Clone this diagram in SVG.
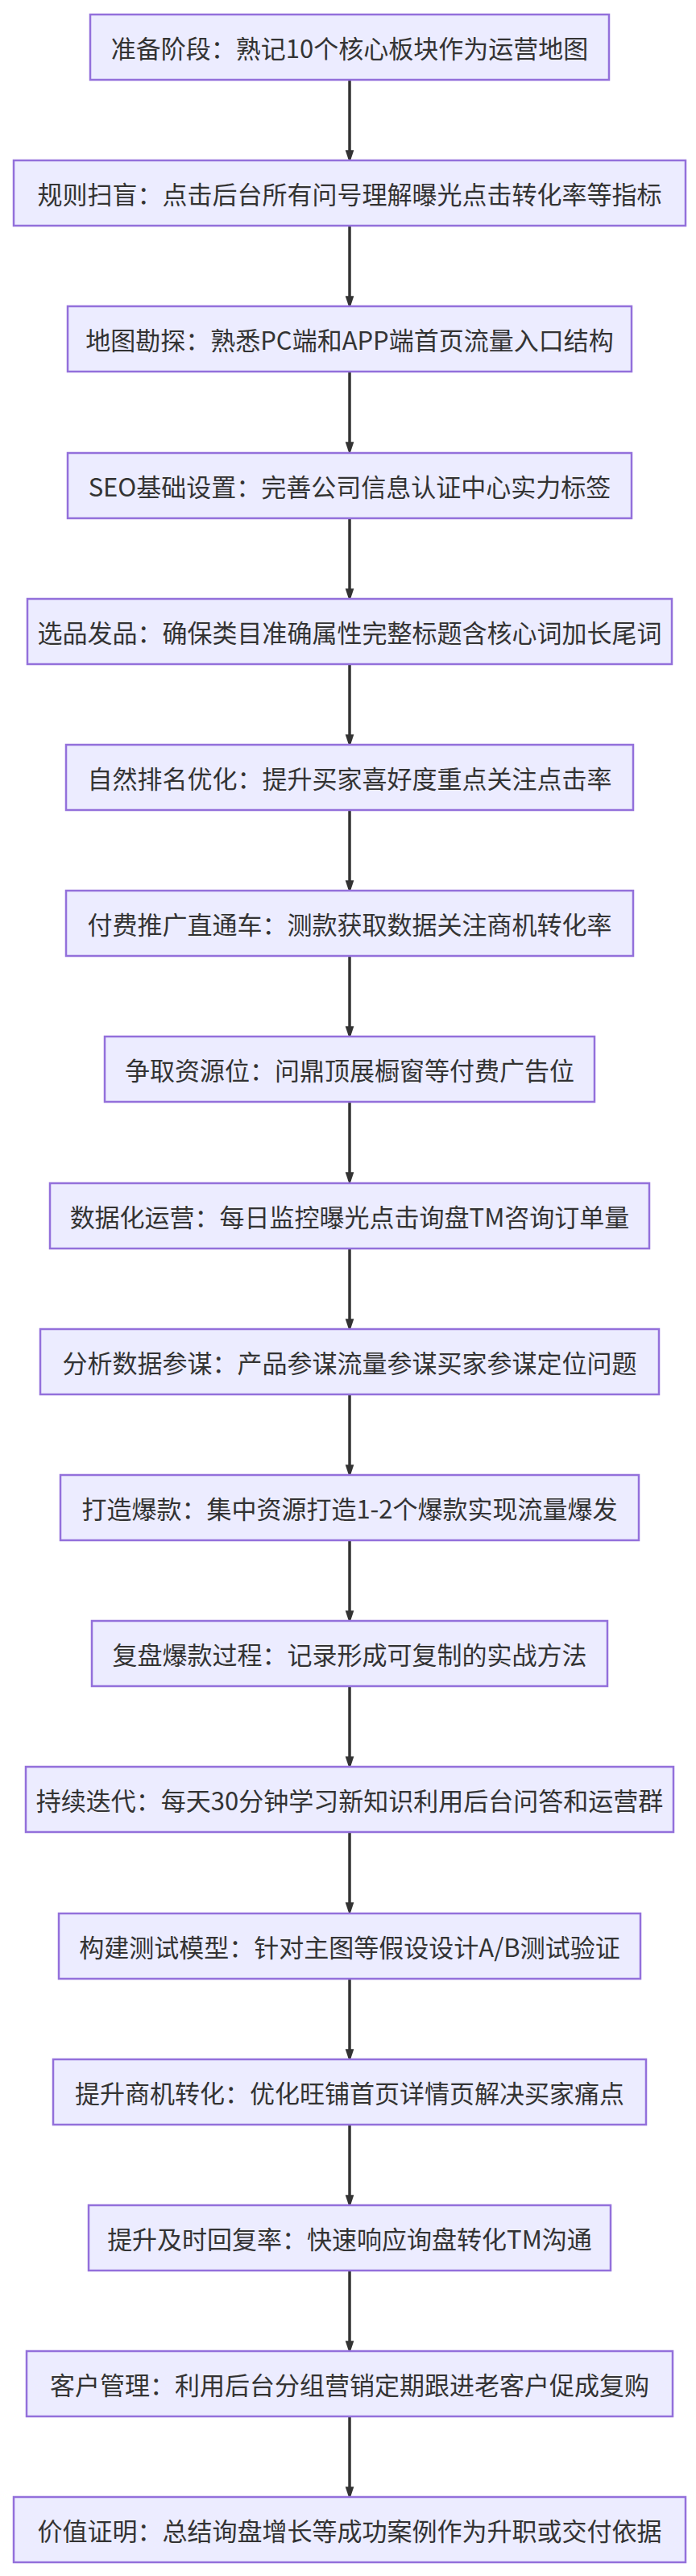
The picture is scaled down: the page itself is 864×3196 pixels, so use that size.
<svg xmlns="http://www.w3.org/2000/svg" width="864" height="3196" viewBox="0 0 864 3196">
<style>
.n rect{fill:#ECECFF;stroke:#9370DB;stroke-width:2.5}
.n text{font-family:"Noto Sans CJK SC","Noto Sans",sans-serif;font-size:31px;fill:#333;text-anchor:middle;dominant-baseline:central}
.e line{stroke:#333;stroke-width:3.5}
</style>
<defs><marker id="a" markerUnits="userSpaceOnUse" markerWidth="16" markerHeight="24" refX="16" refY="8" orient="auto" viewBox="0 0 24 16"><path d="M0,0L24,8L0,16Z" fill="#333"/></marker></defs>
<rect width="864" height="3196" fill="#fff"/>
<g class="e">
<line x1="434" y1="99" x2="434" y2="197" marker-end="url(#a)"/>
<line x1="434" y1="280" x2="434" y2="378" marker-end="url(#a)"/>
<line x1="434" y1="461" x2="434" y2="559" marker-end="url(#a)"/>
<line x1="434" y1="643" x2="434" y2="741" marker-end="url(#a)"/>
<line x1="434" y1="824" x2="434" y2="922" marker-end="url(#a)"/>
<line x1="434" y1="1005" x2="434" y2="1103" marker-end="url(#a)"/>
<line x1="434" y1="1186" x2="434" y2="1284" marker-end="url(#a)"/>
<line x1="434" y1="1367" x2="434" y2="1465" marker-end="url(#a)"/>
<line x1="434" y1="1549" x2="434" y2="1647" marker-end="url(#a)"/>
<line x1="434" y1="1730" x2="434" y2="1828" marker-end="url(#a)"/>
<line x1="434" y1="1911" x2="434" y2="2009" marker-end="url(#a)"/>
<line x1="434" y1="2092" x2="434" y2="2190" marker-end="url(#a)"/>
<line x1="434" y1="2273" x2="434" y2="2371" marker-end="url(#a)"/>
<line x1="434" y1="2455" x2="434" y2="2553" marker-end="url(#a)"/>
<line x1="434" y1="2636" x2="434" y2="2734" marker-end="url(#a)"/>
<line x1="434" y1="2817" x2="434" y2="2915" marker-end="url(#a)"/>
<line x1="434" y1="2998" x2="434" y2="3096" marker-end="url(#a)"/>
</g>
<g id="n1" class="n"><rect x="112" y="18" width="644" height="81"/><text x="434" y="58.5">准备阶段：熟记10个核心板块作为运营地图</text></g>
<g id="n2" class="n"><rect x="17" y="199" width="834" height="81"/><text x="434" y="239.5">规则扫盲：点击后台所有问号理解曝光点击转化率等指标</text></g>
<g id="n3" class="n"><rect x="84" y="380" width="700" height="81"/><text x="434" y="420.5">地图勘探：熟悉PC端和APP端首页流量入口结构</text></g>
<g id="n4" class="n"><rect x="84" y="562" width="700" height="81"/><text x="434" y="602.5">SEO基础设置：完善公司信息认证中心实力标签</text></g>
<g id="n5" class="n"><rect x="34" y="743" width="800" height="81"/><text x="434" y="783.5">选品发品：确保类目准确属性完整标题含核心词加长尾词</text></g>
<g id="n6" class="n"><rect x="82" y="924" width="704" height="81"/><text x="434" y="964.5">自然排名优化：提升买家喜好度重点关注点击率</text></g>
<g id="n7" class="n"><rect x="82" y="1105" width="704" height="81"/><text x="434" y="1145.5">付费推广直通车：测款获取数据关注商机转化率</text></g>
<g id="n8" class="n"><rect x="130" y="1286" width="608" height="81"/><text x="434" y="1326.5">争取资源位：问鼎顶展橱窗等付费广告位</text></g>
<g id="n9" class="n"><rect x="62" y="1468" width="744" height="81"/><text x="434" y="1508.5">数据化运营：每日监控曝光点击询盘TM咨询订单量</text></g>
<g id="n10" class="n"><rect x="50" y="1649" width="768" height="81"/><text x="434" y="1689.5">分析数据参谋：产品参谋流量参谋买家参谋定位问题</text></g>
<g id="n11" class="n"><rect x="75" y="1830" width="718" height="81"/><text x="434" y="1870.5">打造爆款：集中资源打造1-2个爆款实现流量爆发</text></g>
<g id="n12" class="n"><rect x="114" y="2011" width="640" height="81"/><text x="434" y="2051.5">复盘爆款过程：记录形成可复制的实战方法</text></g>
<g id="n13" class="n"><rect x="32" y="2192" width="804" height="81"/><text x="434" y="2232.5">持续迭代：每天30分钟学习新知识利用后台问答和运营群</text></g>
<g id="n14" class="n"><rect x="73" y="2374" width="722" height="81"/><text x="434" y="2414.5">构建测试模型：针对主图等假设设计A/B测试验证</text></g>
<g id="n15" class="n"><rect x="66" y="2555" width="736" height="81"/><text x="434" y="2595.5">提升商机转化：优化旺铺首页详情页解决买家痛点</text></g>
<g id="n16" class="n"><rect x="110" y="2736" width="648" height="81"/><text x="434" y="2776.5">提升及时回复率：快速响应询盘转化TM沟通</text></g>
<g id="n17" class="n"><rect x="33" y="2917" width="802" height="81"/><text x="434" y="2957.5">客户管理：利用后台分组营销定期跟进老客户促成复购</text></g>
<g id="n18" class="n"><rect x="17" y="3098" width="834" height="81"/><text x="434" y="3138.5">价值证明：总结询盘增长等成功案例作为升职或交付依据</text></g>
</svg>
